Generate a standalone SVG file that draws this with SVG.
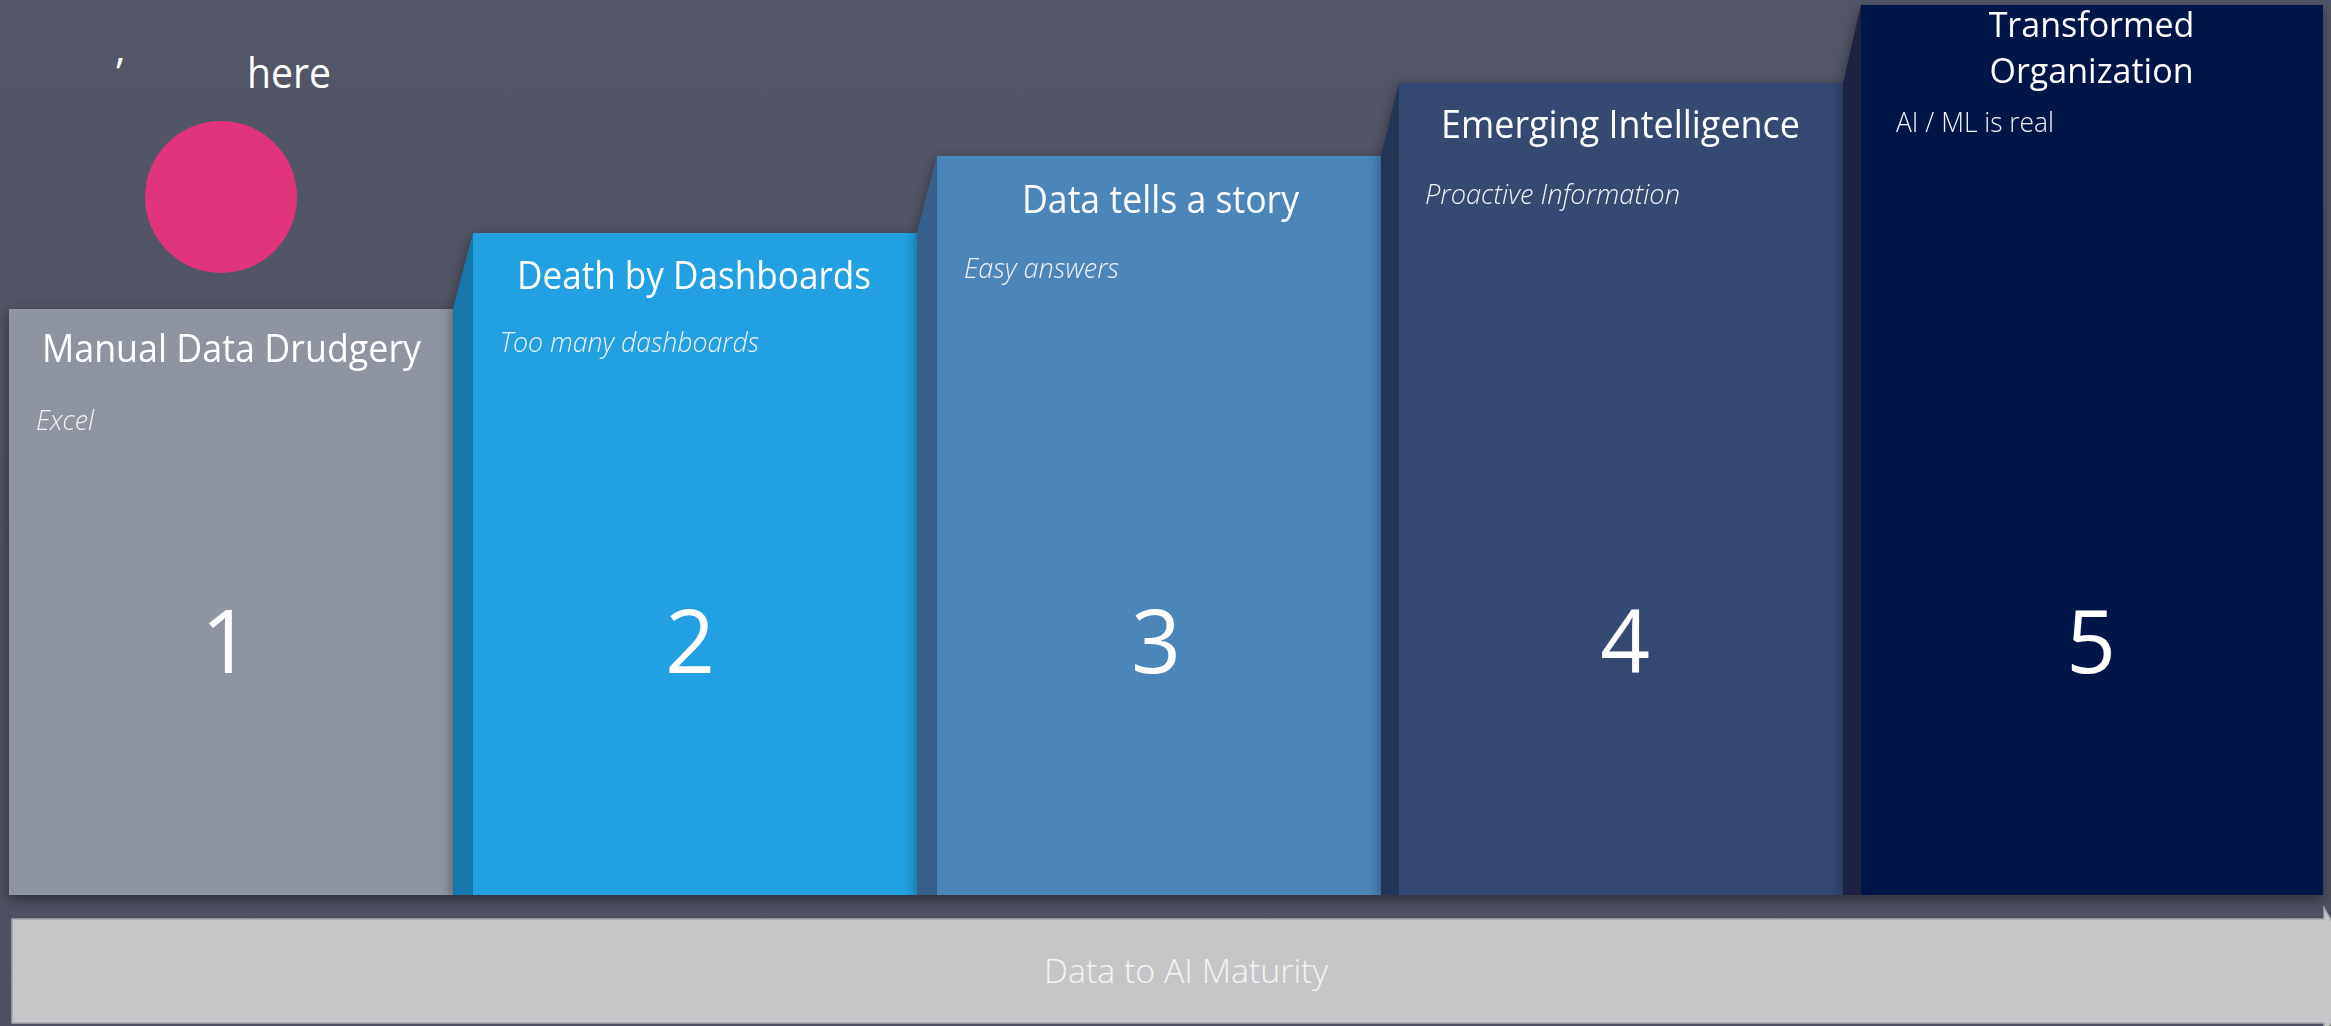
<svg xmlns="http://www.w3.org/2000/svg" width="2331" height="1026" viewBox="0 0 2331 1026">
  <defs>
    <filter id="shadow" x="-10%" y="-10%" width="120%" height="120%">
      <feDropShadow dx="0" dy="4" stdDeviation="7" flood-color="#000000" flood-opacity="0.45"/>
    </filter>
    <linearGradient id="bg" x1="0" y1="0" x2="0" y2="1">
      <stop offset="0" stop-color="#535666"/>
      <stop offset="1" stop-color="#4d5060"/>
    </linearGradient>
  </defs>
  <style>
    .title { font-family: "Open Sans", "Liberation Sans", sans-serif; font-size: 38px; fill: #ffffff; text-anchor: middle; }
    .title5 { font-family: "Open Sans", "Liberation Sans", sans-serif; font-size: 34px; fill: #ffffff; text-anchor: middle; }
    .sub { font-family: "Open Sans", "Liberation Sans", sans-serif; font-size: 27px; font-weight: 300; font-style: italic; fill: #f2f2f2; }
    .subn { font-family: "Open Sans", "Liberation Sans", sans-serif; font-size: 27px; font-weight: 300; fill: #f2f2f2; }
    .num { font-family: "Open Sans", "Liberation Sans", sans-serif; font-size: 87px; fill: #ffffff; text-anchor: middle; }
    .bartext { font-family: "Open Sans", "Liberation Sans", sans-serif; font-size: 33px; font-weight: 300; fill: #f4f4f4; text-anchor: middle; }
    .hdr { font-family: "Open Sans", "Liberation Sans", sans-serif; font-size: 42px; fill: #ffffff; }
  </style>

  <rect x="0" y="0" width="2331" height="1026" fill="url(#bg)"/>

  <g id="header">
    <text class="hdr" x="116" y="88">’</text>
    <text class="hdr" x="247" y="88" textLength="84" lengthAdjust="spacingAndGlyphs">here</text>
    <circle cx="221" cy="197" r="76" fill="#e0357b"/>
  </g>

  <g id="step1" filter="url(#shadow)">
    <rect x="9" y="309" width="444" height="586" fill="#8f95a0"/>
    <text class="title" x="231.5" y="362" textLength="379" lengthAdjust="spacingAndGlyphs">Manual Data Drudgery</text>
    <text class="sub" x="36" y="430" textLength="58" lengthAdjust="spacingAndGlyphs">Excel</text>
    <text class="num" x="226" y="673">1</text>
  </g>

  <g id="step2" filter="url(#shadow)">
    <polygon points="453,309 473,233 473,895 453,895" fill="#1777ab"/>
    <rect x="473" y="233" width="444" height="662" fill="#21a0e1"/>
    <text class="title" x="694" y="289" textLength="354" lengthAdjust="spacingAndGlyphs">Death by Dashboards</text>
    <text class="sub" x="500" y="352" textLength="259" lengthAdjust="spacingAndGlyphs">Too many dashboards</text>
    <text class="num" x="690" y="673">2</text>
  </g>

  <g id="step3" filter="url(#shadow)">
    <polygon points="917,233 937,156 937,895 917,895" fill="#36618b"/>
    <rect x="937" y="156" width="444" height="739" fill="#4c86ba"/>
    <text class="title" x="1160.5" y="213" textLength="277" lengthAdjust="spacingAndGlyphs">Data tells a story</text>
    <text class="sub" x="964" y="278" textLength="155" lengthAdjust="spacingAndGlyphs">Easy answers</text>
    <text class="num" x="1156" y="673">3</text>
  </g>

  <g id="step4" filter="url(#shadow)">
    <polygon points="1381,156 1399,83 1399,895 1381,895" fill="#243456"/>
    <rect x="1399" y="83" width="444" height="812" fill="#344873"/>
    <text class="title" x="1620.5" y="138" textLength="359" lengthAdjust="spacingAndGlyphs">Emerging Intelligence</text>
    <text class="sub" x="1425" y="204" textLength="255" lengthAdjust="spacingAndGlyphs">Proactive Information</text>
    <text class="num" x="1625" y="673">4</text>
  </g>

  <g id="step5" filter="url(#shadow)">
    <polygon points="1843,83 1861,5 1861,895 1843,895" fill="#1a2440"/>
    <rect x="1861" y="5" width="462" height="890" fill="#02154a"/>
    <text class="title5"><tspan x="2091.5" y="37">Transformed</tspan><tspan x="2091.5" y="83">Organization</tspan></text>
    <text class="subn" x="1896" y="132" textLength="158" lengthAdjust="spacingAndGlyphs">AI / ML is real</text>
    <text class="num" x="2091" y="673">5</text>
  </g>

  <g id="bar">
    <path d="M12,919 H2324 V908 L2362,971 L2324,1035 V1023 H12 Z" fill="#c6c6c8" stroke="#a3a5ab" stroke-width="1.5"/>
    <text class="bartext" x="1186" y="983" textLength="284" lengthAdjust="spacingAndGlyphs">Data to AI Maturity</text>
  </g>

  <g id="connectors"></g>
</svg>
